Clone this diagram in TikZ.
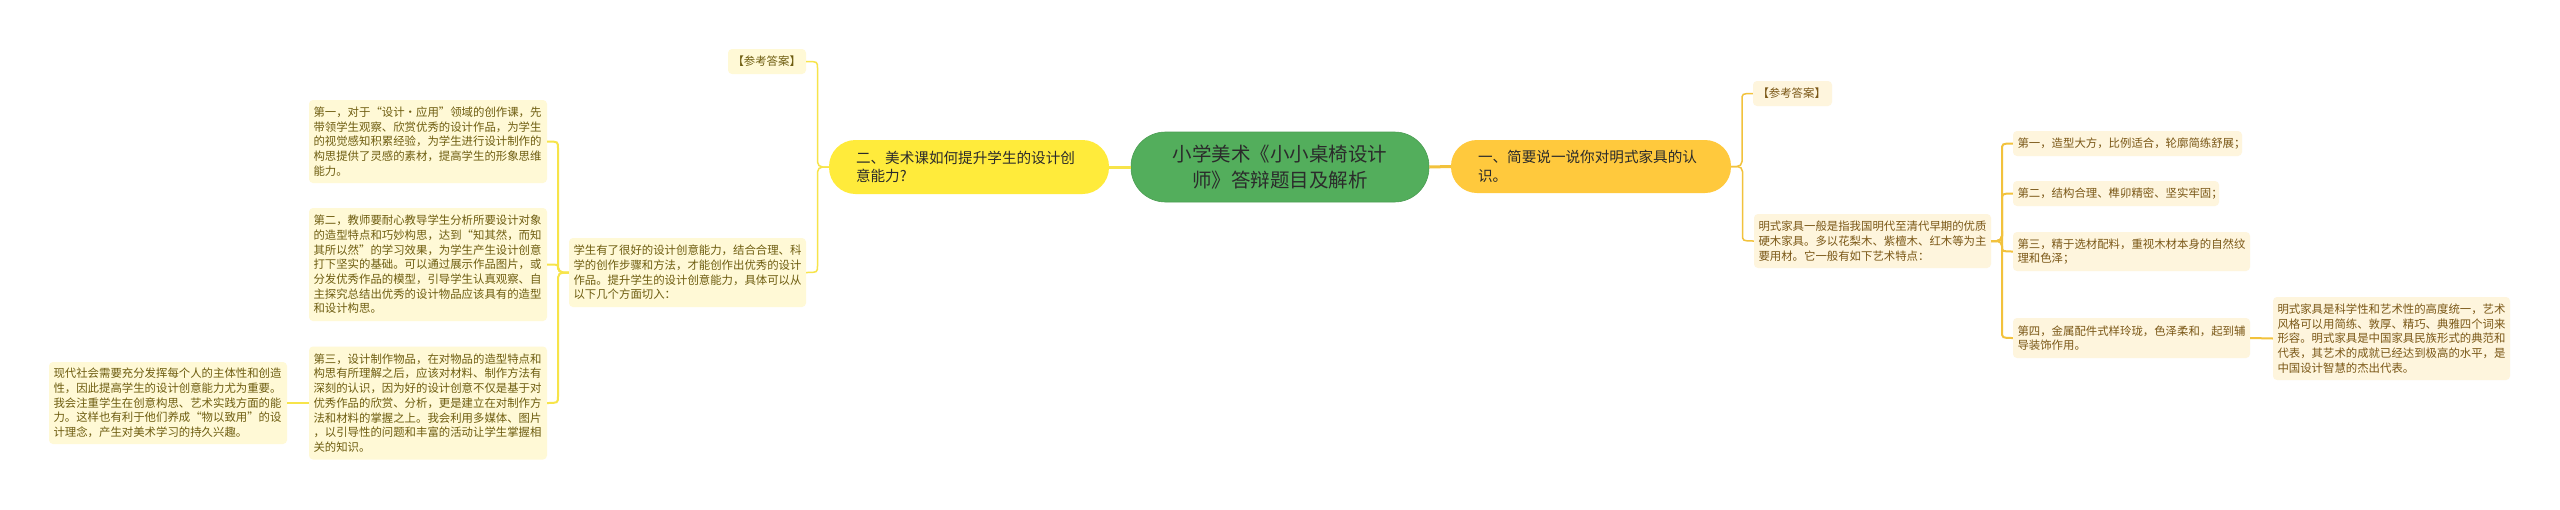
\documentclass[tikz,border=0pt]{standalone}
\usepackage{fontspec}
\newfontfamily\cjk{Noto Sans CJK SC}
\usetikzlibrary{calc}
\definecolor{boxY}{HTML}{FFF9D6}
\definecolor{txtY}{HTML}{6E5D10}
\definecolor{boxO}{HTML}{FEF5DD}
\definecolor{txtO}{HTML}{7A5716}
\definecolor{lnY}{HTML}{F7E44A}
\definecolor{lnO}{HTML}{F2C23C}
\definecolor{nodeY}{HTML}{FFEB3B}
\definecolor{nodeO}{HTML}{FFC93D}
\definecolor{nodeG}{HTML}{53AE5C}
\definecolor{txtD}{HTML}{2B2B2B}
\tikzset{
  sbox/.style={rectangle, rounded corners=4pt, align=left, inner xsep=4.5pt, inner ysep=0pt,
    font=\cjk\fontsize{11.4}{14.7}\selectfont},
  sboxY/.style={sbox, fill=boxY, text=txtY},
  sboxO/.style={sbox, fill=boxO, text=txtO},
  bignode/.style={rectangle, align=left, inner sep=0pt, text=txtD,
    font=\cjk\fontsize{14.6}{18.6}\selectfont, text width=226pt, minimum width=280pt},
  lkY/.style={draw=lnY, line width=2pt, rounded corners=5pt},
  lkO/.style={draw=lnO, line width=2pt, rounded corners=5pt},
  br/.style={to path={let \p1=(\tikztostart), \p2=(\tikztotarget),
     \n1={sign((\y2)-(\y1))}, \n2={min(12,abs((\y2)-(\y1)))} in
     -- ({((\x1)+(\x2))/2},\y1) -- ({((\x1)+(\x2))/2},{(\y2)-(\n1)*(\n2)*1pt})
     .. controls ({((\x1)+(\x2))/2},\y2) .. (\x2,\y2)}}
}
\begin{document}
\begin{tikzpicture}[x=1pt,y=-1pt]
\fill[white] (0,0) rectangle (2560,509);
\useasboundingbox (0,0) rectangle (2560,509);

% central and main branches
\node[rectangle, fill=nodeG, draw=nodeG!90!black, line width=0.6pt, rounded corners=34.5pt,
  minimum width=298pt, minimum height=70pt, inner sep=0pt, align=center, text=txtD,
  font=\cjk\fontsize{19.5}{26.5}\selectfont] (c) at (1280,167)
  {小学美术《小小桌椅设计\\师》答辩题目及解析};
\node[bignode, fill=nodeY, rounded corners=26.5pt, minimum height=54pt] (n2) at (969,167)
  {二、美术课如何提升学生的设计创\\意能力?};
\node[bignode, fill=nodeO, rounded corners=26pt, minimum height=53pt] (n1) at (1591,166.5)
  {一、简要说一说你对明式家具的认\\识。};

% left side
\node[sboxY, minimum width=78pt, minimum height=25pt, text width=69pt] (lref) at (767,61.5) {【参考答案】};
\node[sboxY, minimum height=69pt, text width=228pt] (lmain) at (687.5,272.5)
  {学生有了很好的设计创意能力，结合合理、科\\学的创作步骤和方法，才能创作出优秀的设计\\作品。提升学生的设计创意能力，具体可以从\\以下几个方面切入：};
\node[sboxY, minimum height=83pt, text width=229pt] (l1) at (428,141.5)
  {第一，对于“设计·应用”领域的创作课，先\\带领学生观察、欣赏优秀的设计作品，为学生\\的视觉感知积累经验，为学生进行设计制作的\\构思提供了灵感的素材，提高学生的形象思维\\能力。};
\node[sboxY, minimum height=113pt, text width=229pt] (l2) at (428,264.5)
  {第二，教师要耐心教导学生分析所要设计对象\\的造型特点和巧妙构思，达到“知其然，而知\\其所以然”的学习效果，为学生产生设计创意\\打下坚实的基础。可以通过展示作品图片，或\\分发优秀作品的模型，引导学生认真观察、自\\主探究总结出优秀的设计物品应该具有的造型\\和设计构思。};
\node[sboxY, minimum height=113pt, text width=229pt] (l3) at (428,403)
  {第三，设计制作物品，在对物品的造型特点和\\构思有所理解之后，应该对材料、制作方法有\\深刻的认识，因为好的设计创意不仅是基于对\\优秀作品的欣赏、分析，更是建立在对制作方\\法和材料的掌握之上。我会利用多媒体、图片\\，以引导性的问题和丰富的活动让学生掌握相\\关的知识。};
\node[sboxY, minimum height=82pt, text width=229pt] (l4) at (168,403)
  {现代社会需要充分发挥每个人的主体性和创造\\性，因此提高学生的设计创意能力尤为重要。\\我会注重学生在创意构思、艺术实践方面的能\\力。这样也有利于他们养成“物以致用”的设\\计理念，产生对美术学习的持久兴趣。};

% right side
\node[sboxO, minimum width=79pt, minimum height=25pt, text width=70pt] (rref) at (1792.5,93.5) {【参考答案】};
\node[sboxO, minimum height=54pt, text width=228pt] (rmain) at (1872.5,241)
  {明式家具一般是指我国明代至清代早期的优质\\硬木家具。多以花梨木、紫檀木、红木等为主\\要用材。它一般有如下艺术特点：};
\node[sboxO, minimum height=25pt, text width=220pt] (r1) at (2127.5,143.5)
  {第一，造型大方，比例适合，轮廓简练舒展；};
\node[sboxO, minimum height=25pt, text width=197pt] (r2) at (2116,193.5)
  {第二，结构合理、榫卯精密、坚实牢固；};
\node[sboxO, minimum height=39pt, text width=228pt] (r3) at (2131.5,251.5)
  {第三，精于选材配料，重视木材本身的自然纹\\理和色泽；};
\node[sboxO, minimum height=40pt, text width=228pt] (r4) at (2131.5,338)
  {第四，金属配件式样玲珑，色泽柔和，起到辅\\导装饰作用。};
\node[sboxO, minimum height=83pt, text width=228pt] (r5) at (2391.5,338.5)
  {明式家具是科学性和艺术性的高度统一，艺术\\风格可以用简练、敦厚、精巧、典雅四个词来\\形容。明式家具是中国家具民族形式的典范和\\代表，其艺术的成就已经达到极高的水平，是\\中国设计智慧的杰出代表。};

% connectors
\draw[lkY, line width=3pt] (c.west) -- (n2.east);
\draw[lkO, line width=3pt] (c.east) -- (n1.west);
\draw[lkY, line width=1.5pt] (n2.west) to[br] (lref.east);
\draw[lkY, line width=1.5pt] (n2.west) to[br] (lmain.east);
\draw[lkY] (lmain.west) to[br] (l1.east);
\draw[lkY] (lmain.west) to[br] (l2.east);
\draw[lkY] (lmain.west) to[br] (l3.east);
\draw[lkY] (l3.west) -- (l4.east);
\draw[lkO, line width=1.5pt] (n1.east) to[br] (rref.west);
\draw[lkO, line width=1.5pt] (n1.east) to[br] (rmain.west);
\draw[lkO] (rmain.east) to[br] (r1.west);
\draw[lkO] (rmain.east) to[br] (r2.west);
\draw[lkO] (rmain.east) to[br] (r3.west);
\draw[lkO] (rmain.east) to[br] (r4.west);
\draw[lkO] (r4.east) -- (r5.west);
\end{tikzpicture}
\end{document}
